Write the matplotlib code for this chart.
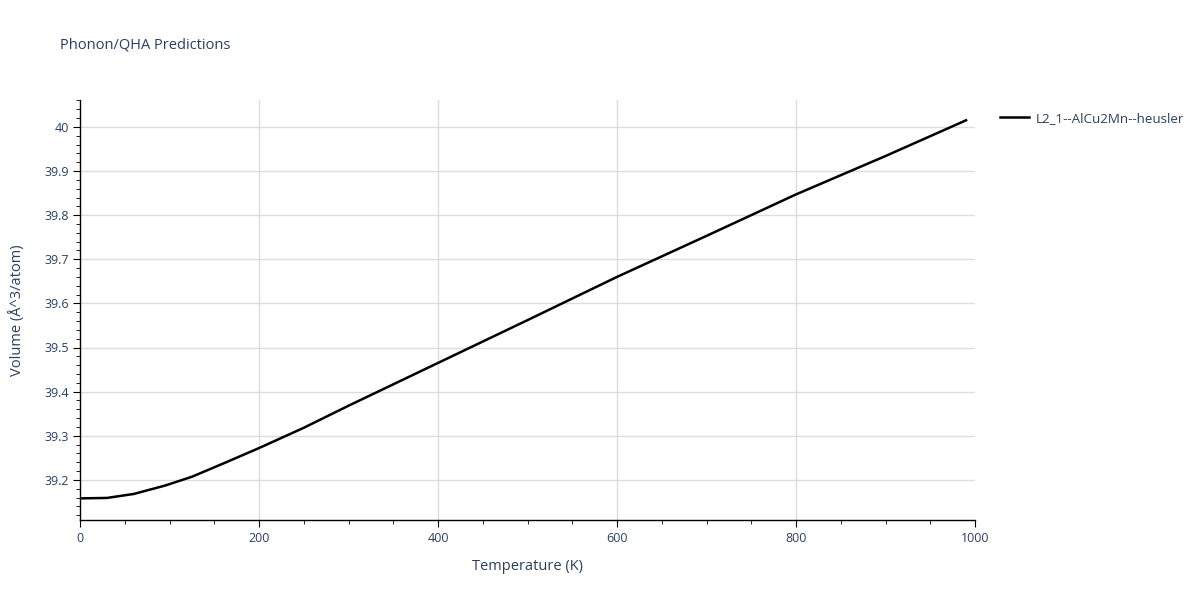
import matplotlib
matplotlib.use("Agg")
import matplotlib.pyplot as plt
from matplotlib.ticker import MultipleLocator

# donnees
temperature = [0, 30, 60, 95, 125, 160, 200, 250, 300, 400, 500, 600, 700, 800, 900, 990]
volume = [39.158, 39.159, 39.168, 39.187, 39.207, 39.237, 39.272, 39.318, 39.368,
          39.465, 39.562, 39.660, 39.753, 39.847, 39.934, 40.015]
serie = "L2_1--AlCu2Mn--heusler"

texte = "#2a3f5f"
plt.rcParams['font.family'] = ['Open Sans', 'DejaVu Sans']

fig = plt.figure(figsize=(12, 6), dpi=100)
ax = fig.add_axes([80 / 1200, 80 / 600, 895 / 1200, 420 / 600])

ax.plot(temperature, volume, color="black", lw=1.8, label=serie, zorder=3)

ax.set_xlim(0, 1000)
ax.set_ylim(39.109, 40.061)
ax.xaxis.set_major_locator(MultipleLocator(200))
ax.xaxis.set_minor_locator(MultipleLocator(50))
ax.yaxis.set_major_locator(MultipleLocator(0.1))
ax.yaxis.set_minor_locator(MultipleLocator(0.02))
ax.yaxis.set_major_formatter(plt.FuncFormatter(lambda v, p: f"{v:.1f}".rstrip("0").rstrip(".")))

# grille : horizontale par l'axe, verticale a la main (pas de ligne sur le bord droit)
ax.grid(True, axis="y", which="major", color="#dcdcdc", lw=1)
for xg in [200, 400, 600, 800]:
    ax.axvline(xg, color="#dcdcdc", lw=1, zorder=0)
ax.set_axisbelow(True)
for s in ["top", "right"]:
    ax.spines[s].set_visible(False)
for s in ["left", "bottom"]:
    ax.spines[s].set_color("black")
    ax.spines[s].set_linewidth(1)

ax.tick_params(which="major", direction="out", length=5, color="black",
               labelsize=9, labelcolor=texte)
ax.tick_params(which="minor", direction="out", length=3, color="black")
ax.tick_params(axis="y", which="both", pad=3)

ax.set_xlabel("Temperature (K)", fontsize=10.5, color=texte, labelpad=10)
ax.set_ylabel("Volume (Å^3/atom)", fontsize=10.5, color=texte, labelpad=14)

fig.text(60 / 1200, 1 - 45 / 600, "Phonon/QHA Predictions", fontsize=10.5,
         color=texte, va="center", ha="left")

ax.legend(loc="upper left", bbox_to_anchor=(988 / 1200, 1 - 100 / 600),
          bbox_transform=fig.transFigure, frameon=False, fontsize=9.6,
          labelcolor=texte, handlelength=2.2, handletextpad=0.5)

fig.savefig("out.png", dpi=100)
